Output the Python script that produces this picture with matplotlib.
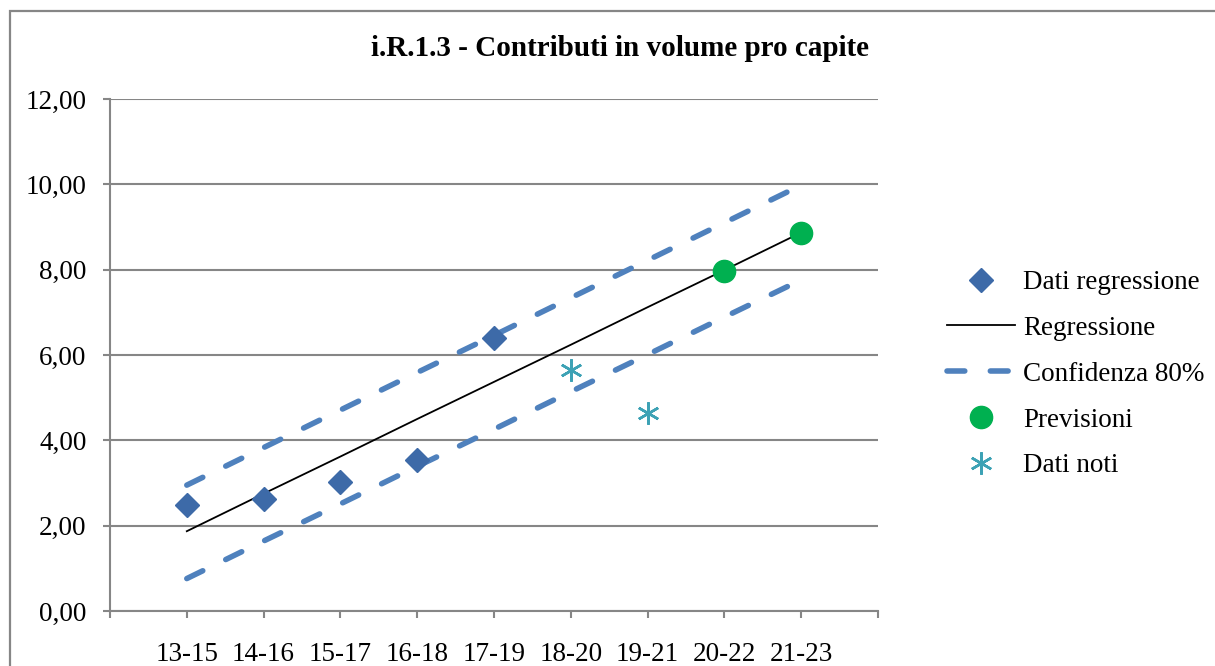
import matplotlib

matplotlib.use("Agg")
import matplotlib.pyplot as plt
from matplotlib.patches import Rectangle

# ---- data ----
periods = ["13-15", "14-16", "15-17", "16-18", "17-19",
           "18-20", "19-21", "20-22", "21-23"]

regr_data = [2.48, 2.62, 3.03, 3.54, 6.39]              # Dati regressione (first 5 periods)
regr_line = [1.87, 2.75, 3.62, 4.50, 5.37, 6.24, 7.12, 7.99, 8.87]
conf_upper = [2.95, 3.83, 4.71, 5.59, 6.46, 7.34, 8.22, 9.10, 9.98]
conf_lower = [0.76, 1.64, 2.51, 3.39, 4.26, 5.14, 6.01, 6.89, 7.76]
forecast_periods = ["20-22", "21-23"]
forecast = [7.98, 8.87]                                  # Previsioni
known_periods = ["18-20", "19-21"]
known = [5.65, 4.63]                                     # Dati noti

title = "i.R.1.3 - Contributi in volume pro capite"

plt.rcParams["font.family"] = ["Liberation Serif", "DejaVu Serif"]
GRAY = "#868686"
W, H = 1215, 666
FS = 19.5

fig = plt.figure(figsize=(W / 100, H / 100), dpi=100)
ax = fig.add_axes([110 / W, 1 - 611 / H, 768 / W, 512 / H])

pos = {p: i + 1 for i, p in enumerate(periods)}
x_all = [pos[p] for p in periods]

ax.plot(x_all, regr_line, color="black", lw=1.3, zorder=3, label="Regressione")
for ys, lab in ((conf_upper, "Confidenza 80%"), (conf_lower, None)):
    ax.plot(x_all, ys, color="#4F81BD", lw=4.0, dashes=(3.2, 4.6),
            dash_capstyle="round", zorder=3, label=lab)
ax.plot(x_all[:len(regr_data)], regr_data, ls="none", marker="D", ms=12.5,
        color="#3D6AA8", zorder=4, label="Dati regressione")
ax.plot([pos[p] for p in forecast_periods], forecast, ls="none", marker="o",
        ms=16, color="#00B050", zorder=4, label="Previsioni")
ax.plot([pos[p] for p in known_periods], known, ls="none", marker=(6, 2, 0),
        ms=16, mew=1.8, color="#3DA2B5", zorder=4, label="Dati noti")

ax.set_xlim(0, len(periods) + 1)
ax.set_ylim(0, 12)
ax.set_xticks(range(len(periods) + 2))
ax.set_xticklabels([""] + periods + [""])
ax.set_yticks(range(0, 13, 2))
ax.set_yticklabels([f"{v:.2f}".replace(".", ",") for v in range(0, 13, 2)])

ax.grid(axis="y", color=GRAY, lw=1.5)
ax.set_axisbelow(True)
for s in ("top", "right"):
    ax.spines[s].set_visible(False)
for s in ("left", "bottom"):
    ax.spines[s].set_color(GRAY)
    ax.spines[s].set_linewidth(1.5)
ax.tick_params(axis="both", direction="out", color=GRAY, width=1.5,
               length=5, labelsize=FS)
ax.tick_params(axis="y", pad=12)
ax.tick_params(axis="x", pad=17)

fig.text(620 / W, 1 - 49 / H, title, ha="center", va="center",
         fontsize=21, fontweight="bold")

# legend on the right, order as in the reference
h, l = ax.get_legend_handles_labels()
order = ["Dati regressione", "Regressione", "Confidenza 80%", "Previsioni", "Dati noti"]
hd = dict(zip(l, h))
fig.legend([hd[k] for k in order], order, loc="upper left",
           bbox_to_anchor=(947 / W, 1 - 270 / H), frameon=False, fontsize=FS,
           handlelength=2.5, handletextpad=0.3, labelspacing=0.77,
           borderpad=0, borderaxespad=0)

# chart-area border (continues beyond the right/bottom image edge)
fig.add_artist(Rectangle((10 / W, -0.1), 1.2, 1.1 - 11 / H, fill=False,
                         edgecolor=GRAY, lw=1.6, transform=fig.transFigure))

fig.savefig("out.png", dpi=100)
